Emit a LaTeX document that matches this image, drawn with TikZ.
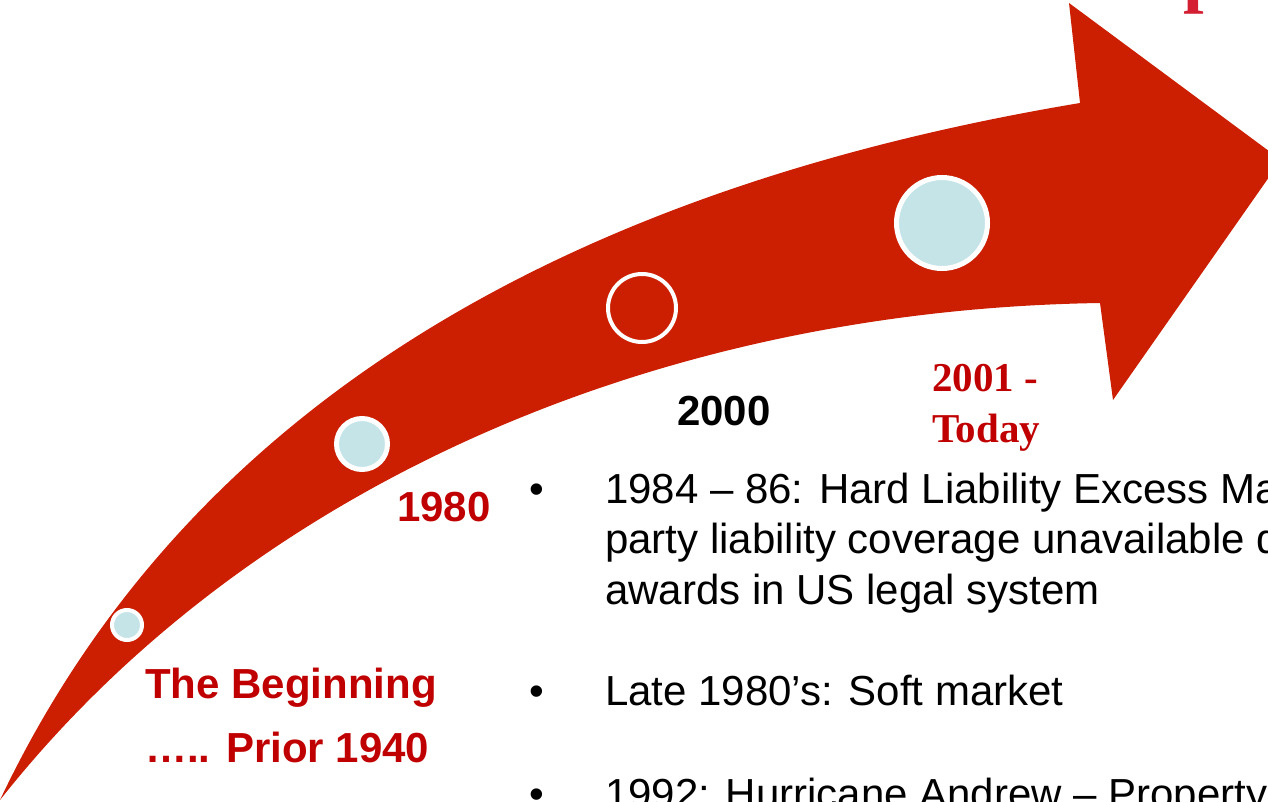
\documentclass[tikz,border=0pt]{standalone}
\usepackage{fontspec}
\setmainfont{Liberation Sans}
\newfontfamily\serifbold{Liberation Serif}
\definecolor{arrowred}{HTML}{CC1E00}
\definecolor{dotblue}{HTML}{C4E4E8}
\definecolor{labelred}{HTML}{C00000}
\definecolor{titlered}{HTML}{D41F33}
\tikzset{
  yearlab/.style={anchor=base west, inner sep=0pt, font=\bfseries\fontsize{42}{50}\selectfont},
  seriflab/.style={anchor=base west, inner sep=0pt, text=labelred, font=\serifbold\bfseries\fontsize{41}{50}\selectfont},
  bodytext/.style={anchor=base west, inner sep=0pt, font=\fontsize{42}{50}\selectfont, text=black},
  dotnode/.style={circle, draw=white, fill=dotblue, inner sep=0pt},
}
\begin{document}
\begin{tikzpicture}[x=1pt,y=-1pt]
\useasboundingbox (0,0) rectangle (1268,802);
\clip (0,0) rectangle (1268,802);
\fill[white] (0,0) rectangle (1268,802);
% curved arrow
\fill[arrowred] (0,800)
  .. controls (185,410) and (560,190) .. (1080,103)
  -- (1069,3) -- (1281,160) -- (1113,400) -- (1100,303)
  .. controls (650,310) and (245,490) .. (0,800)
  -- cycle;
% circles
\node[dotnode, line width=4pt, minimum size=30pt] (c1) at (127,625) {};
\node[dotnode, line width=5pt, minimum size=51pt] (c2) at (362,444) {};
\node[circle, draw=white, inner sep=0pt, line width=4pt, minimum size=68pt] (c3) at (642,308) {};
\node[dotnode, line width=5pt, minimum size=91pt] (c4) at (942,223) {};
% partial title letter
\node[anchor=base west, inner sep=0pt, text=titlered, font=\serifbold\bfseries\fontsize{74}{74}\selectfont] (ttl) at (1183,-1) {p};
% labels
\node[yearlab, text=labelred] (beg1) at (145,698) {The Beginning};
\node[yearlab, text=labelred] (beg2) at (145,762) {….. Prior 1940};
\node[yearlab, text=labelred] (y1980) at (397,521) {1980};
\node[yearlab, text=black] (y2000) at (677,425) {2000};
\node[seriflab] (y2001a) at (932,391) {2001 -};
\node[seriflab] (y2001b) at (932,442) {Today};
% bullets
\node[bodytext] (b1) at (529,503) {•};
\node[bodytext] (t1a) at (605,503) {1984 – 86: Hard Liability Excess Market};
\node[bodytext] (t1b) at (605,553) {party liability coverage unavailable due};
\node[bodytext] (t1c) at (605,604) {awards in US legal system};
\node[bodytext] (b2) at (529,705) {•};
\node[bodytext] (t2) at (605,705) {Late 1980’s: Soft market};
\node[bodytext] (b3) at (529,808) {•};
\node[bodytext] (t3) at (605,808) {1992: Hurricane Andrew – Property};
\end{tikzpicture}
\end{document}
